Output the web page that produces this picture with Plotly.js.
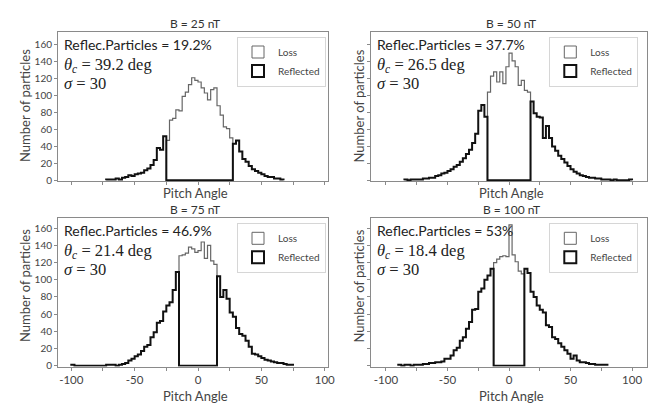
<!DOCTYPE html>
<html>
<head>
<meta charset="utf-8">
<script src="https://cdn.plot.ly/plotly-3.0.1.min.js"></script>
<style>
html,body{margin:0;padding:0;background:#fff;}
#chart{width:654px;height:405px;}
</style>
</head>
<body>
<div id="chart"></div>
<script>
// ---------------- DATA ----------------
const BIN_W = 2.5;                       // histogram bin width (deg)
const panelTitles = ['B = 25 nT', 'B = 50 nT', 'B = 75 nT', 'B = 100 nT'];
const reflecPct   = ['19.2%', '37.7%', '46.9%', '53%'];
const thetaC      = ['39.2', '26.5', '21.4', '18.4'];
const sigmaVals   = ['30', '30', '30', '30'];
const seriesNames = ['Loss', 'Reflected'];
const xTickVals   = [-100, -50, 0, 50, 100];
const xTickText   = ['-100', '-50', '0', '50', '100'];
const xMinorVals  = [-75, -25, 25, 75];
const yTickVals   = [0, 20, 40, 60, 80, 100, 120, 140, 160];

// B = 25 nT
const refl25Start = -72.5;
const refl25 = [1,1,1,2,1,3,4,6,5,7,8,9,12,14,18,24,38,36,52,
                0,0,0,0,0,0,0,0,0,0,0,0,0,0,0,0,0,0,0,0,0,
                43,47,34,25,22,17,13,11,9,7,5,4,4,2,2,1];
const loss25Start = -25;
const loss25 = [47,71,73,83,82,99,104,113,121,118,116,109,103,95,107,109,88,77,63,61,50];

// B = 50 nT
const refl50Start = -85;
const refl50 = [1,0,1,1,1,1,2,2,3,3,5,6,8,9,11,13,16,18,22,26,31,36,44,55,82,89,75,
                0,0,0,0,0,0,0,0,0,0,0,0,0,0,
                93,79,75,74,50,64,50,40,35,29,25,21,17,13,10,8,6,5,4,3,3,2,2,1,1,1,0,1,0,0,0,0,1];
const loss50Start = -17.5;
const loss50 = [104,123,128,116,128,114,134,150,141,134,112,118,106,104];

// B = 75 nT
const refl75Start = -100;
const refl75 = [1,0,0,0,0,0,0,0,0,0,0,1,1,1,0,1,2,3,6,8,11,13,17,22,24,33,39,50,52,63,70,74,88,109,
                0,0,0,0,0,0,0,0,0,0,0,0,
                104,80,88,78,62,57,44,37,35,29,22,14,13,11,9,7,6,5,4,3,3,2,1,1];
const loss75Start = -15;
const loss75 = [128,129,131,138,136,132,134,144,125,140,122,118];

// B = 100 nT
const refl100Start = -90;
const refl100 = [1,0,1,1,0,1,1,1,2,2,3,3,4,4,5,8,8,12,18,21,29,33,43,51,65,66,86,90,100,105,113,
                 0,0,0,0,0,0,0,0,0,0,
                 113,108,86,80,70,65,62,47,45,33,31,26,22,18,14,8,12,6,4,4,3,2,2,1,1,1,1];
const loss100Start = -12.5;
const loss100 = [120,124,127,128,127,164,129,121,110,107];

const reflStarts = [refl25Start, refl50Start, refl75Start, refl100Start];
const reflData   = [refl25, refl50, refl75, refl100];
const lossStarts = [loss25Start, loss50Start, loss75Start, loss100Start];
const lossData   = [loss25, loss50, loss75, loss100];

// ---------------- GEOMETRY / STYLE ----------------
const W = 654, H = 405;
const panels = [
  {l: 58,    r: 328,   t: 32,    b: 181.15, xr: [-110.5, 102.6], yr: [-1, 175],   yLabels: true,  xLabels: false},
  {l: 371.2, r: 646.8, t: 32,    b: 181.15, xr: [-112, 112],     yr: [-1, 175],   yLabels: false, xLabels: false},
  {l: 58,    r: 328,   t: 218.3, b: 366.56, xr: [-110.5, 102.6], yr: [-1, 171.6], yLabels: true,  xLabels: true},
  {l: 371.2, r: 646.8, t: 218.3, b: 366.56, xr: [-112, 112],     yr: [-1, 171.6], yLabels: false, xLabels: true}
];
const FRAME = '#8a8a8a';
const SANS = 'Lato, "Open Sans", sans-serif';
const SERIF = 'Liberation Serif';

function stepXY(start, counts) {
  const xs = [start], ys = [0];
  counts.forEach((c, i) => {
    const a = start + i * BIN_W;
    xs.push(a, a + BIN_W);
    ys.push(c, c);
  });
  xs.push(start + counts.length * BIN_W);
  ys.push(0);
  return {xs, ys};
}

const traces = [];
const layout = {
  width: W, height: H,
  margin: {l: 0, r: 0, t: 0, b: 0},
  paper_bgcolor: '#fff', plot_bgcolor: '#fff',
  font: {family: SANS, color: '#333'},
  showlegend: true,
  annotations: [],
  barmode: 'overlay'
};

panels.forEach((p, i) => {
  const n = i + 1;
  const xa = n === 1 ? 'x' : 'x' + n;
  const ya = n === 1 ? 'y' : 'y' + n;
  const xKey = n === 1 ? 'xaxis' : 'xaxis' + n;
  const yKey = n === 1 ? 'yaxis' : 'yaxis' + n;
  const legKey = n === 1 ? 'legend' : 'legend' + n;

  const loss = stepXY(lossStarts[i], lossData[i]);
  const refl = stepXY(reflStarts[i], reflData[i]);
  traces.push({type: 'scatter', mode: 'lines', x: loss.xs, y: loss.ys, xaxis: xa, yaxis: ya,
    line: {color: '#666', width: 1.2}, showlegend: false, hoverinfo: 'skip'});
  traces.push({type: 'scatter', mode: 'lines', x: refl.xs, y: refl.ys, xaxis: xa, yaxis: ya,
    line: {color: '#111', width: 2}, showlegend: false, hoverinfo: 'skip'});
  // legend entries (outlined boxes)
  traces.push({type: 'bar', x: [null], y: [null], xaxis: xa, yaxis: ya, name: seriesNames[0], legend: legKey,
    marker: {color: 'rgba(255,255,255,0)', line: {color: '#666', width: 1}}});
  traces.push({type: 'bar', x: [null], y: [null], xaxis: xa, yaxis: ya, name: seriesNames[1], legend: legKey,
    marker: {color: 'rgba(255,255,255,0)', line: {color: '#111', width: 2}}});

  layout[xKey] = {
    domain: [p.l / W, p.r / W], range: p.xr, anchor: ya,
    showline: true, mirror: true, linecolor: FRAME, linewidth: 1, layer: 'below traces',
    showgrid: false, zeroline: false,
    ticks: 'outside', ticklen: 3, tickcolor: FRAME, tickwidth: 1,
    tickmode: 'array', tickvals: xTickVals, ticktext: xTickText,
    showticklabels: p.xLabels, tickfont: {family: SANS, size: 11.5, color: '#444'},
    minor: {tickmode: 'array', tickvals: xMinorVals, ticks: 'outside', ticklen: 3, tickcolor: FRAME, showgrid: false},
    fixedrange: true
  };
  layout[yKey] = {
    domain: [1 - p.b / H, 1 - p.t / H], range: p.yr, anchor: xa,
    showline: true, mirror: true, linecolor: FRAME, linewidth: 1, layer: 'below traces',
    showgrid: false, zeroline: false,
    ticks: 'outside', ticklen: 3, tickcolor: FRAME, tickwidth: 1,
    tickmode: 'array', tickvals: yTickVals,
    showticklabels: p.yLabels, tickfont: {family: SANS, size: 10, color: '#444'},
    fixedrange: true
  };
  layout[legKey] = {
    x: (p.r - (i % 2 === 0 ? 2 : 8.5)) / W, xanchor: 'right',
    y: 1 - (p.t + 4.5) / H, yanchor: 'top',
    bgcolor: '#fff', bordercolor: '#d6d6d6', borderwidth: 1,
    font: {family: SANS, size: 10, color: '#444'},
    tracegroupgap: 0, itemwidth: 30
  };

  const xd = xa + ' domain';
  const A = layout.annotations;
  // panel title
  A.push({xref: xd, yref: 'paper', x: 0.5, xshift: 2, y: 1 - (p.t - 9) / H, yanchor: 'middle',
    text: panelTitles[i], showarrow: false, font: {family: SANS, size: 12, color: '#333'}});
  // x title
  A.push({xref: xd, yref: 'paper', x: 0.5, xshift: 2,
    y: 1 - (i < 2 ? 193 : 395.5) / H, yanchor: 'middle',
    text: 'Pitch Angle', showarrow: false, font: {family: SANS, size: 13, color: '#444'}});
  // y title
  A.push({xref: 'paper', yref: 'paper', x: (i % 2 === 0 ? 25 : 358.5) / W, xanchor: 'center',
    y: 1 - (i < 2 ? 106 : 286) / H, yanchor: 'middle', textangle: -90,
    text: 'Number of particles', showarrow: false, font: {family: SANS, size: 13, color: '#444'}});
  // stats text block (three lines)
  const serifOpen = '<span style="font-family:' + SERIF + ';font-size:16.5px">';
  const statsText =
    '<span style="font-size:14px">Reflec.Particles = ' + reflecPct[i] + '</span><br>' +
    serifOpen + '<i>θ</i><sub><i>c</i></sub> = ' + thetaC[i] + ' deg</span><br>' +
    serifOpen + '<i>σ</i> = ' + sigmaVals[i] + '</span>';
  A.push({xref: 'paper', yref: 'paper', x: (p.l + 4) / W, xanchor: 'left',
    y: 1 - (p.t + 2) / H, yanchor: 'top', align: 'left',
    text: statsText, showarrow: false, font: {family: SANS, size: 15, color: '#222'}});
});

Plotly.newPlot('chart', traces, layout, {displayModeBar: false, staticPlot: true});
</script>
</body>
</html>
